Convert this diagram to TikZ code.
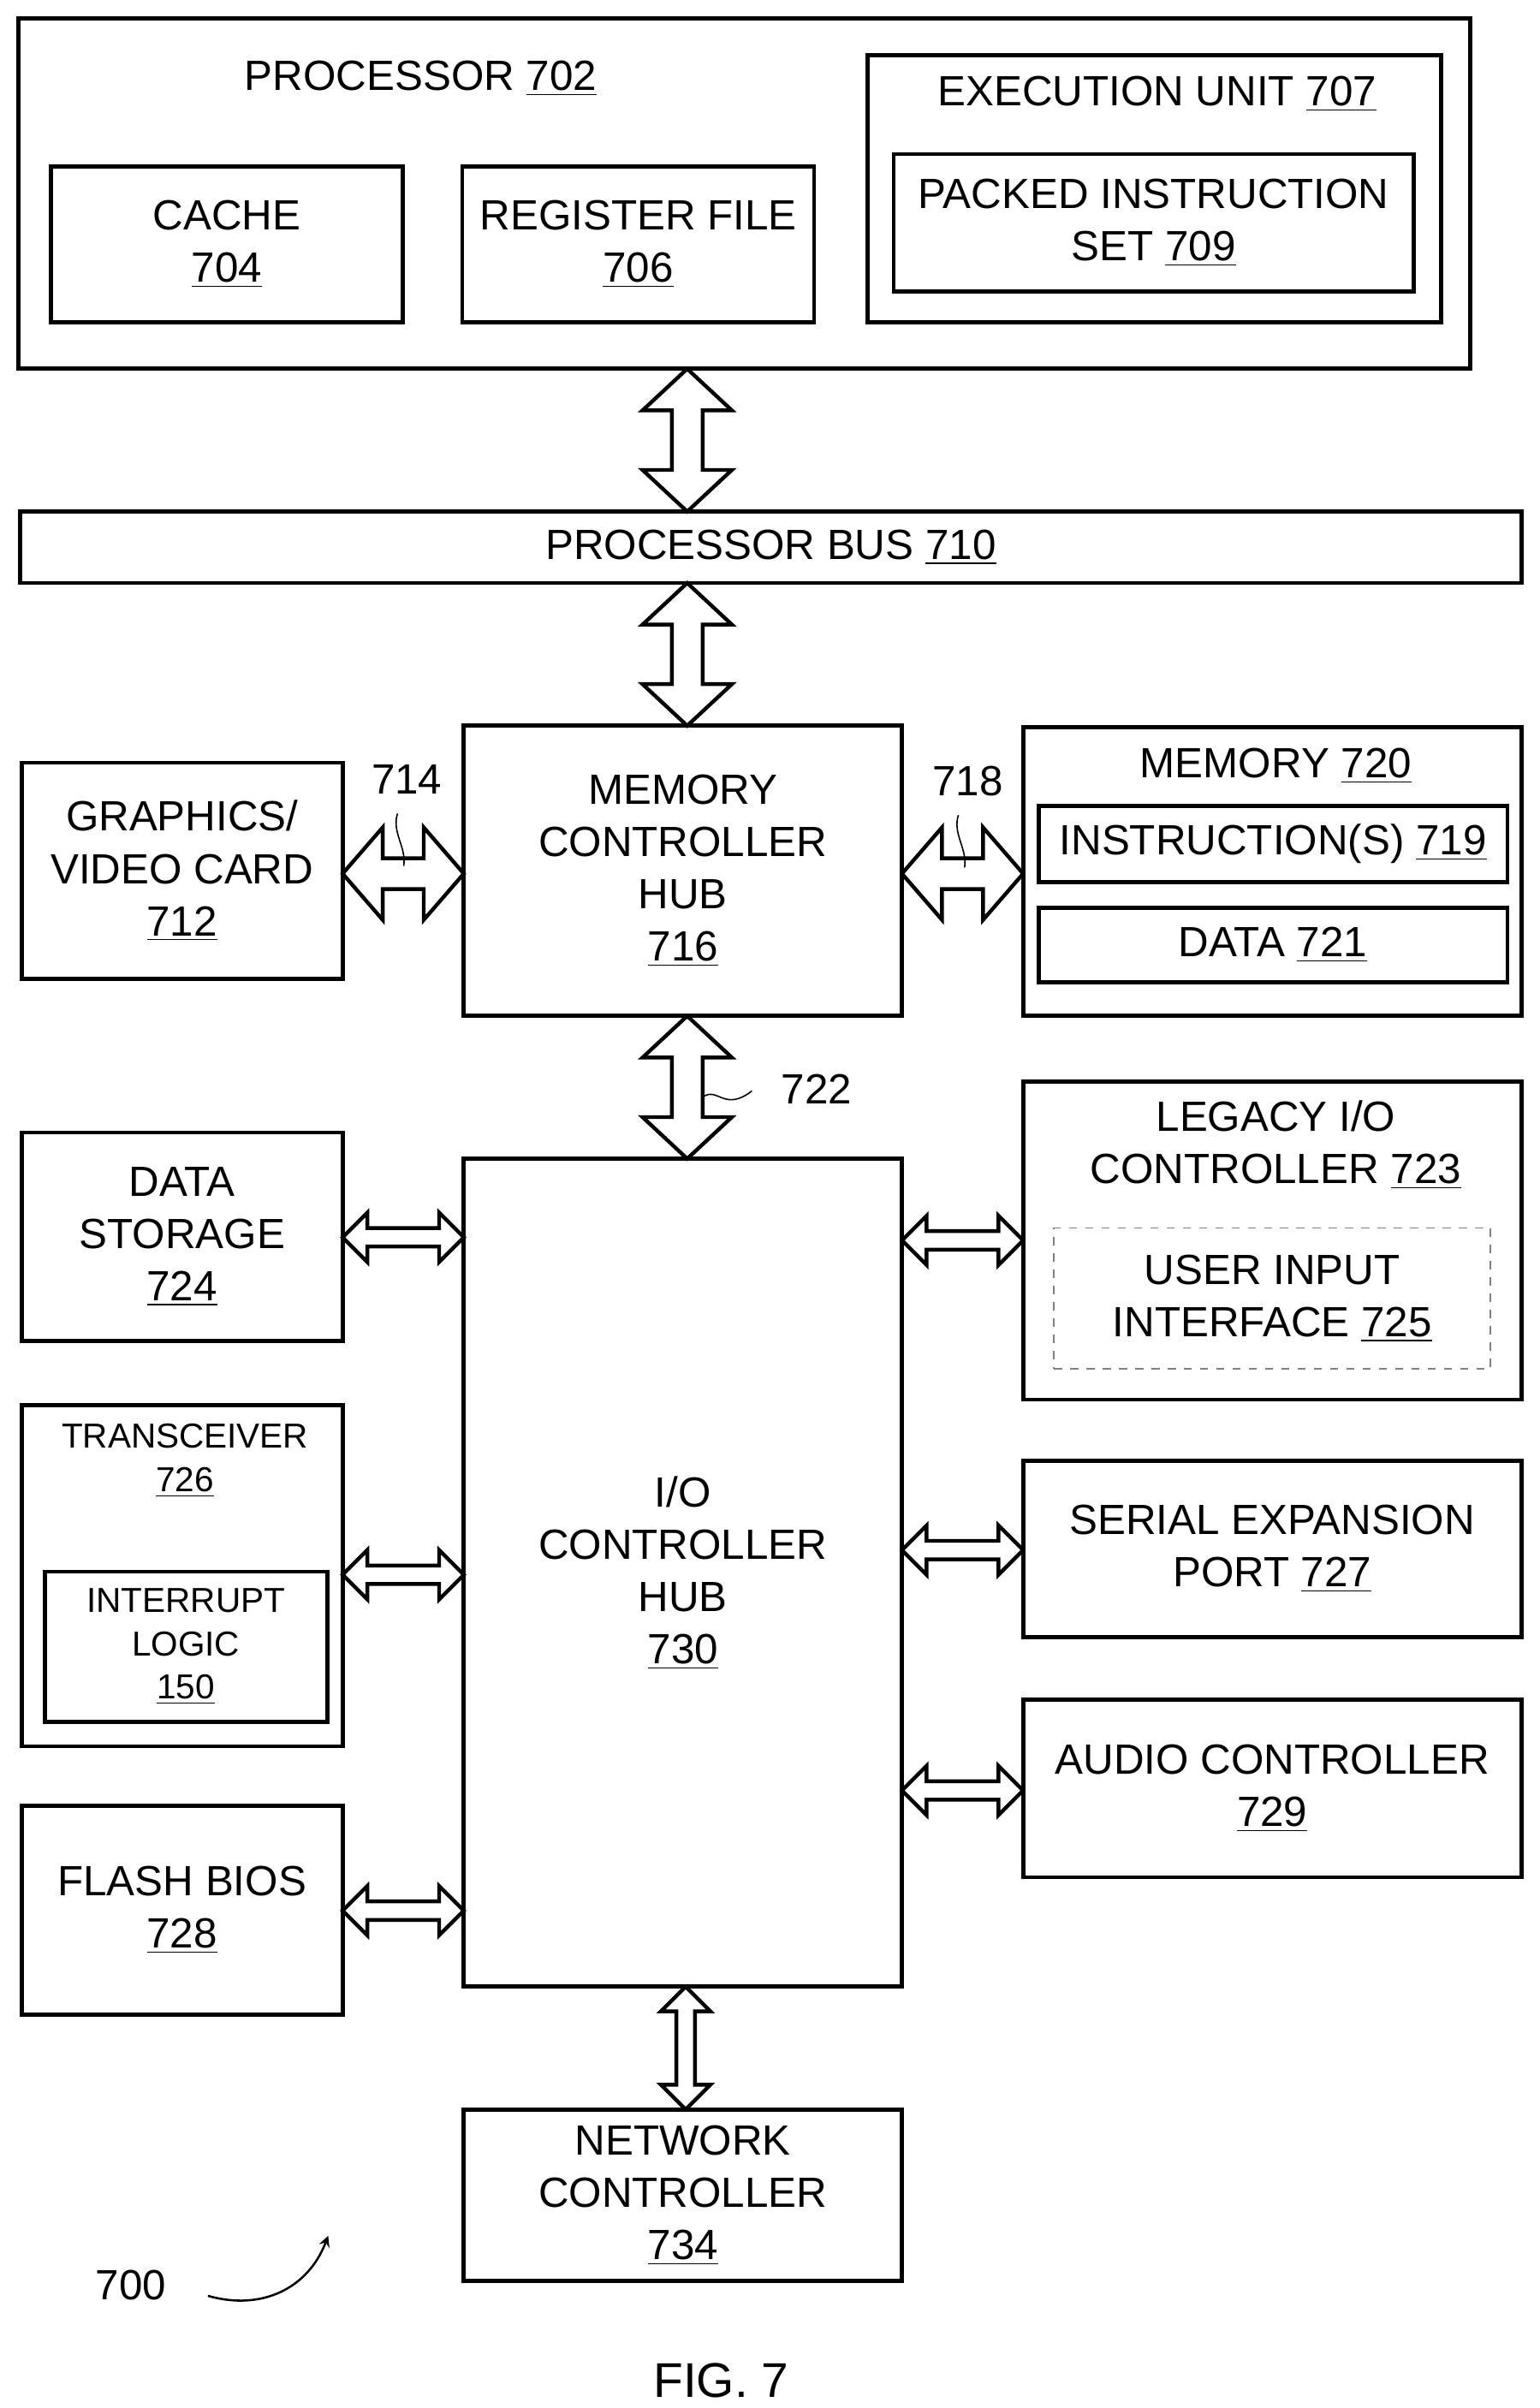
\documentclass[tikz,border=0pt]{standalone}
\usepackage{fontspec}
\setmainfont{Liberation Sans}
\usetikzlibrary{calc}
\begin{document}
\tikzset{
 box/.style={draw,line width=1.5pt,inner sep=0pt,outer sep=0pt,align=center,font=\fontsize{15.6}{19.3}\selectfont,anchor=north west},
 wh/.style 2 args={minimum width={#1*0.02cm-1.5pt},minimum height={#2*0.02cm-1.5pt}},
 arr/.style={draw,line width=1.4pt,fill=white,line join=miter},
 lbl/.style={inner sep=0pt,font=\fontsize{15.6}{19.3}\selectfont,align=center},
 sm/.style={font=\fontsize{12.8}{16}\selectfont},
 sq/.style={line width=0.5pt}
}
\newcommand\harr[6]{% nodeA nodeB y shafthalf headhalf headlen
\path[arr] let \p1=(#1.east), \p2=(#2.west), \p3=(0,#3), \p4=(#4,0), \p5=(#5,0), \p6=(#6,0) in
 (\x1,\y3) -- (\x1+\x6,\y3+\x5) -- (\x1+\x6,\y3+\x4) -- (\x2-\x6,\y3+\x4) -- (\x2-\x6,\y3+\x5) -- (\x2,\y3) -- (\x2-\x6,\y3-\x5) -- (\x2-\x6,\y3-\x4) -- (\x1+\x6,\y3-\x4) -- (\x1+\x6,\y3-\x5) -- cycle;}
\newcommand\varr[6]{% top bottom x shafthalf headhalf headlen
\path[arr] let \p1=(#1.south), \p2=(#2.north), \p3=(#3,0), \p4=(#4,0), \p5=(#5,0), \p6=(#6,0) in
 (\x3,\y1) -- (\x3+\x5,\y1-\x6) -- (\x3+\x4,\y1-\x6) -- (\x3+\x4,\y2+\x6) -- (\x3+\x5,\y2+\x6) -- (\x3,\y2) -- (\x3-\x5,\y2+\x6) -- (\x3-\x4,\y2+\x6) -- (\x3-\x4,\y1-\x6) -- (\x3-\x5,\y1-\x6) -- cycle;}
\begin{tikzpicture}[x=0.02cm,y=-0.02cm]
\useasboundingbox (0,0) rectangle (999.4,1562.8);
% processor
\node[box,wh={945}{230}] (proc) at (12,12) {};
\node[lbl] (procl) at (273,51) {PROCESSOR \underline{702}};
\node[box,wh={231}{104}] (cache) at (33,108) {CACHE\\\underline{704}};
\node[box,wh={231}{104}] (reg) at (300,108) {REGISTER FILE\\\underline{706}};
\node[box,wh={375}{176}] (exec) at (563,36) {};
\node[lbl] (execl) at (751,61) {EXECUTION UNIT \underline{707}};
\node[box,wh={340}{92}] (pis) at (580,100) {PACKED INSTRUCTION\\SET \underline{709}};
% bus
\node[box,wh={977}{49}] (bus) at (13,332) {PROCESSOR BUS \underline{710}};
% mch
\node[box,wh={287}{191}] (mch) at (301,471) {MEMORY\\CONTROLLER\\HUB\\\underline{716}};
\node[box,wh={211}{143}] (gfx) at (14,495) {GRAPHICS/\\VIDEO CARD\\\underline{712}};
\node[box,wh={326}{190}] (mem) at (664,472) {};
\node[lbl] (meml) at (828,497) {MEMORY \underline{720}};
\node[box,wh={307}{52}] (ins) at (674,523) {INSTRUCTION(S) \underline{719}};
\node[box,wh={307}{51}] (dat) at (674,589) {DATA \underline{721}};
% ioh
\node[box,wh={287}{540}] (ioh) at (301,752) {I/O\\CONTROLLER\\HUB\\\underline{730}};
\node[box,wh={211}{138}] (ds) at (14,735) {DATA\\STORAGE\\\underline{724}};
\node[box,wh={211}{224}] (tr) at (14,912) {};
\node[lbl,sm] (trl) at (120,948) {TRANSCEIVER\\\underline{726}};
\node[box,wh={186}{100},sm] (il) at (29,1020) {INTERRUPT\\LOGIC\\\underline{150}};
\node[box,wh={211}{138}] (fb) at (14,1172) {FLASH BIOS\\\underline{728}};
\node[box,wh={326}{209}] (leg) at (664,702) {};
\node[lbl] (legl) at (828,743) {LEGACY I/O\\CONTROLLER \underline{723}};
\node[box,draw=gray,dashed,line width=0.5pt,wh={286}{94}] (ui) at (684,797) {USER INPUT\\INTERFACE \underline{725}};
\node[box,wh={326}{117}] (sep) at (664,948) {SERIAL EXPANSION\\PORT \underline{727}};
\node[box,wh={326}{118}] (aud) at (664,1103) {AUDIO CONTROLLER\\\underline{729}};
\node[box,wh={287}{114}] (net) at (301,1369) {NETWORK\\CONTROLLER\\\underline{734}};
% arrows
\varr{proc}{bus}{446}{10}{29}{27}
\varr{bus}{mch}{446}{10}{29}{27}
\varr{mch}{ioh}{446}{10}{29}{27}
\harr{gfx}{mch}{567}{10}{30}{26}
\harr{mch}{mem}{567}{10}{30}{26}
\harr{ds}{ioh}{803}{6}{16}{16}
\harr{tr}{ioh}{1022}{6}{16}{16}
\harr{fb}{ioh}{1240}{6}{16}{16}
\harr{ioh}{leg}{805}{6}{16}{16}
\harr{ioh}{sep}{1006}{6}{16}{16}
\harr{ioh}{aud}{1162}{6}{16}{16}
\varr{ioh}{net}{445}{6}{16}{16}
% labels
\node[lbl] (l714) at (264,506) {714};
\node[lbl] (l718) at (628,507) {718};
\node[lbl] (l722) at (530,707) {722};
\draw[sq] (258,528) .. controls (254,540) and (264,550) .. (262,562);
\draw[sq] (622,529) .. controls (618,541) and (628,551) .. (626,563);
\draw[sq] (456,712) .. controls (466,705) and (470,722) .. (488,708);
\node[lbl] (l700) at (85,1483) {700};
\coordinate (c700) at (213,1451);
\draw[line width=0.8pt,-stealth] (135,1490) .. controls (170,1500) and (200,1485) .. (c700);
\node[lbl,font=\fontsize{18}{20}\selectfont] (fig) at (468,1545) {FIG. 7};
\end{tikzpicture}
\end{document}
